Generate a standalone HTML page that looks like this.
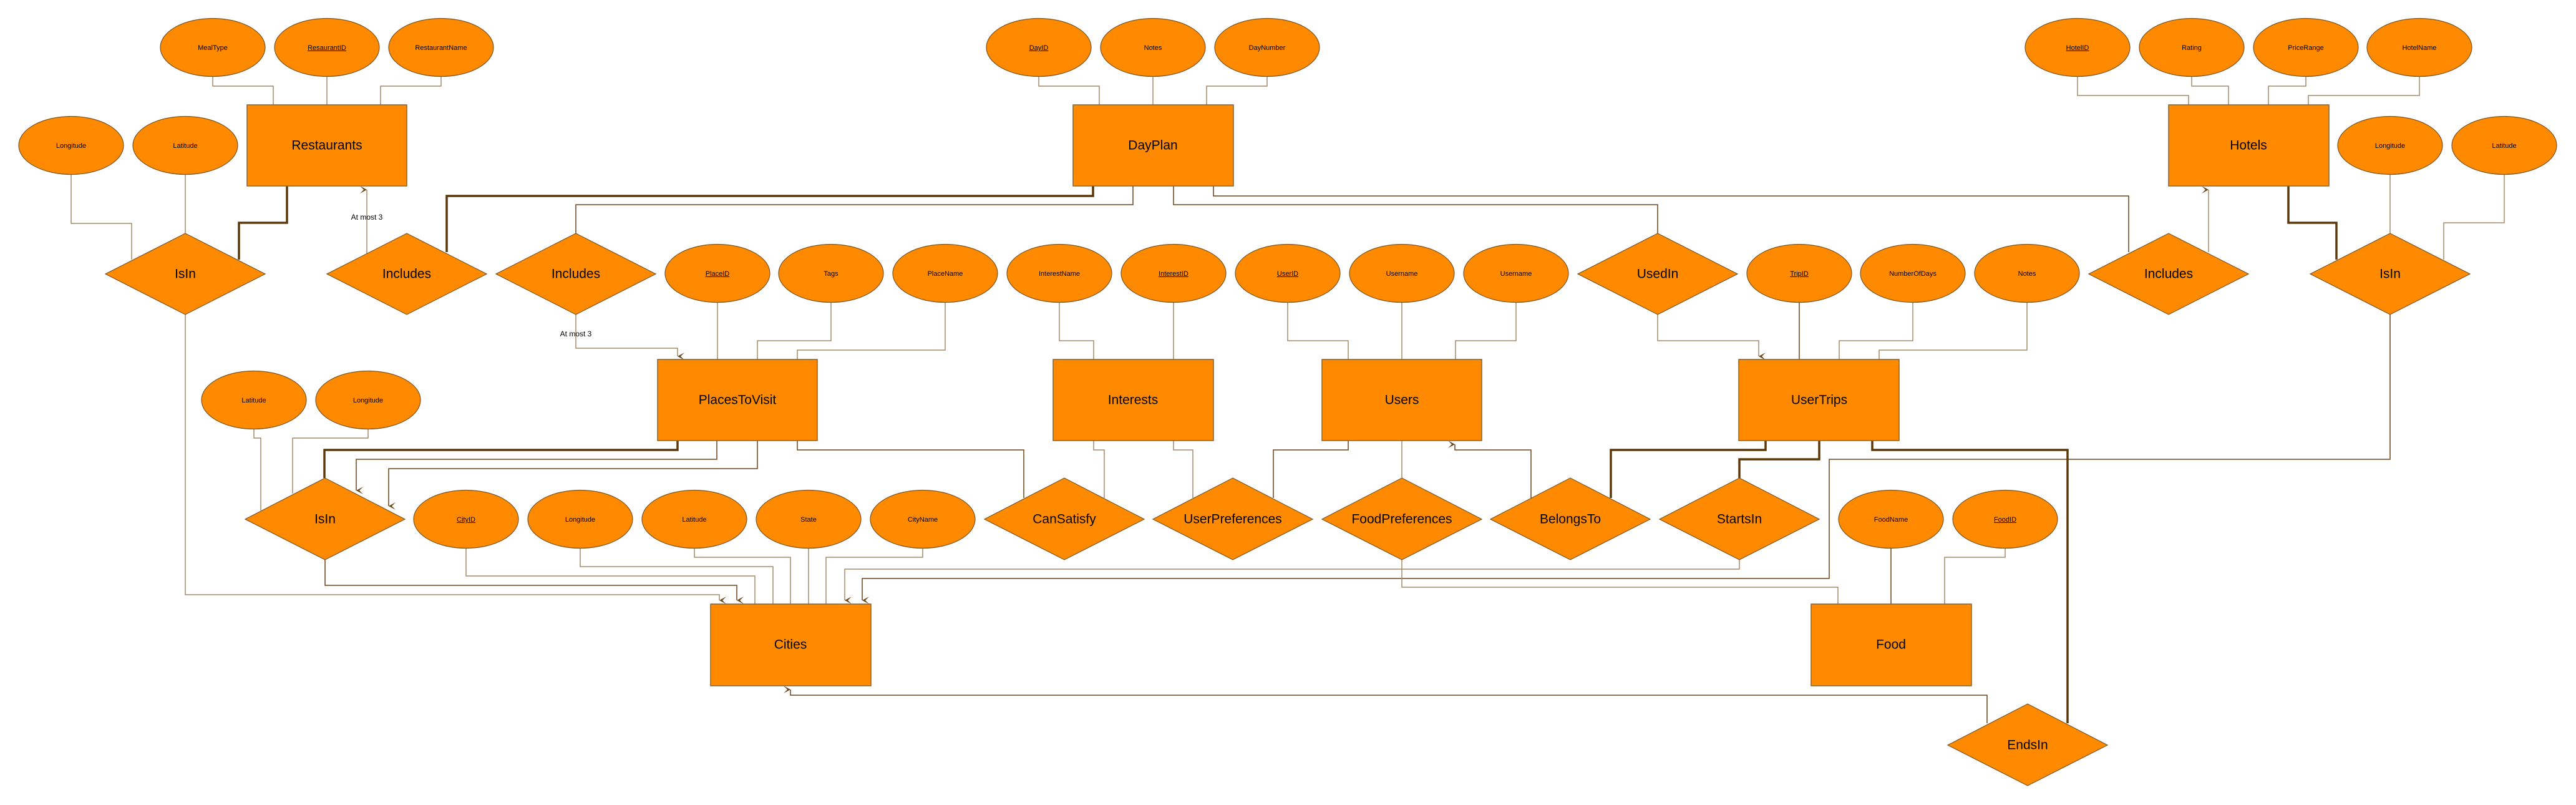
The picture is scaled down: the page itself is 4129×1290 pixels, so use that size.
<!DOCTYPE html>
<html><head><meta charset="utf-8"><style>
html,body{margin:0;padding:0;background:#fff;}
svg{display:block;}
text{font-family:"Liberation Sans",sans-serif;fill:#000;}
.e{fill:#FF8A00;stroke:#7a5520;stroke-width:1.2;}
.b{fill:#FF8A00;stroke:#8a6330;stroke-width:1.5;}
.t{fill:none;stroke:#a48a68;stroke-width:1.5;}
.d{fill:none;stroke:#6b4418;stroke-width:1.5;}
.k{fill:none;stroke:#5c3708;stroke-width:3.5;}
.a{font-size:11px;text-anchor:middle;dominant-baseline:middle;}
.n{font-size:21px;text-anchor:middle;dominant-baseline:middle;}
.l{font-size:12px;text-anchor:middle;dominant-baseline:middle;}
</style></head><body>
<svg width="4129" height="1290" viewBox="0 0 4129 1290" xmlns="http://www.w3.org/2000/svg">
<defs>
<marker id="ar" markerWidth="14" markerHeight="14" refX="7" refY="12" orient="auto-start-reverse" markerUnits="userSpaceOnUse">
<path d="M1,1 L7,12 L13,1 L7,7 Z" fill="#6b4418"/>
</marker>
</defs>

<!-- connectors -->
<g>
<!-- Restaurants attrs -->
<path class="t" d="M341,123 V138 H438 V168"/>
<path class="t" d="M524,123 V168"/>
<path class="t" d="M707,123 V138 H610 V168"/>
<!-- IsIn left -->
<path class="t" d="M114,279 V358 H211 V416"/>
<path class="t" d="M297,279 V374"/>
<path class="k" d="M460,298 V357 H383 V416"/>
<path class="t" d="M297,504 V953 H1153 V962" marker-end="url(#ar)"/>
<!-- Includes1 -->
<path class="t" d="M588,406 V304" marker-end="url(#ar)"/>
<path class="k" d="M716,404 V314 H1752 V298"/>
<!-- Includes2 -->
<path class="d" d="M923,374 V328 H1816 V298"/>
<path class="t" d="M923,504 V558 H1086 V571" marker-end="url(#ar)"/>
<!-- DayPlan attrs -->
<path class="t" d="M1665,123 V138 H1762 V168"/>
<path class="t" d="M1848,123 V168"/>
<path class="t" d="M2031,123 V138 H1934 V168"/>
<!-- DayPlan to UsedIn and Includes3 -->
<path class="d" d="M1881,298 V328 H2657 V374"/>
<path class="d" d="M1945,298 V314 H3412 V404"/>
<!-- PlacesToVisit attrs -->
<path class="t" d="M1150,485 V576"/>
<path class="t" d="M1332,485 V546 H1214 V576"/>
<path class="t" d="M1515,485 V561 H1278 V576"/>
<!-- Interests attrs -->
<path class="t" d="M1698,485 V546 H1753 V576"/>
<path class="t" d="M1881,485 V576"/>
<!-- Users attrs -->
<path class="t" d="M2064,485 V546 H2161 V576"/>
<path class="t" d="M2247,485 V576"/>
<path class="t" d="M2430,485 V546 H2333 V576"/>
<!-- UsedIn to UserTrips -->
<path class="t" d="M2657,504 V546 H2819 V571" marker-end="url(#ar)"/>
<!-- UserTrips attrs -->
<path class="d" d="M2884,485 V576"/>
<path class="t" d="M3066,485 V546 H2948 V576"/>
<path class="t" d="M3249,485 V561 H3012 V576"/>
<!-- Hotels attrs -->
<path class="t" d="M3330,123 V153 H3508 V168"/>
<path class="t" d="M3513,123 V138 H3572 V168"/>
<path class="t" d="M3696,123 V138 H3636 V168"/>
<path class="t" d="M3878,123 V153 H3700 V168"/>
<!-- Includes3 to Hotels -->
<path class="t" d="M3540,404 V304" marker-end="url(#ar)"/>
<!-- Hotels IsIn -->
<path class="k" d="M3668,298 V357 H3745 V416"/>
<path class="t" d="M3831,279 V374"/>
<path class="t" d="M4014,279 V357 H3917 V416"/>
<path class="d" d="M3831,504 V736 H2932 V927 H1382 V962" marker-end="url(#ar)"/>
<!-- PlacesToVisit IsIn (lower) -->
<path class="t" d="M407,687 V702 H418 V818"/>
<path class="t" d="M590,687 V702 H469 V791"/>
<path class="k" d="M1086,706 V721 H520 V766"/>
<path class="d" d="M1149,706 V736 H571 V786" marker-end="url(#ar)"/>
<path class="d" d="M1214,706 V751 H623 V811" marker-end="url(#ar)"/>
<path class="d" d="M1278,706 V721 H1641 V798"/>
<path class="d" d="M521,897 V938 H1181 V962" marker-end="url(#ar)"/>
<!-- Cities attrs -->
<path class="t" d="M747,878 V923 H1210 V968"/>
<path class="t" d="M930,878 V908 H1239 V968"/>
<path class="t" d="M1113,878 V893 H1267 V968"/>
<path class="t" d="M1296,878 V968"/>
<path class="t" d="M1479,878 V893 H1324 V968"/>
<!-- Interests/Users relationships -->
<path class="t" d="M1753,706 V721 H1770 V798"/>
<path class="t" d="M1881,706 V721 H1912 V798"/>
<path class="d" d="M2161,706 V721 H2041 V798"/>
<path class="t" d="M2247,706 V766"/>
<path class="d" d="M2454,798 V721 H2332 V712" marker-end="url(#ar)"/>
<path class="k" d="M2582,798 V721 H2830 V706"/>
<path class="k" d="M2788,766 V736 H2916 V706"/>
<path class="t" d="M2788,897 V912 H1354 V962" marker-end="url(#ar)"/>
<!-- Food -->
<path class="t" d="M2247,897 V941 H2946 V968"/>
<path class="d" d="M3031,878 V968"/>
<path class="t" d="M3214,878 V893 H3117 V968"/>
<!-- EndsIn -->
<path class="k" d="M3001,706 V721 H3314 V1159"/>
<path class="d" d="M3185,1159 V1114 H1267 V1105" marker-end="url(#ar)"/>
</g>

<!-- top attribute ellipses -->
<g>
<ellipse class="e" cx="341" cy="76" rx="84" ry="46.5"/><text class="a" x="341" y="77">MealType</text>
<ellipse class="e" cx="524" cy="76" rx="84" ry="46.5"/><text class="a" x="524" y="77" text-decoration="underline">ResaurantID</text>
<ellipse class="e" cx="707" cy="76" rx="84" ry="46.5"/><text class="a" x="707" y="77">RestaurantName</text>
<ellipse class="e" cx="114" cy="233" rx="84" ry="46.5"/><text class="a" x="114" y="234">Longitude</text>
<ellipse class="e" cx="297" cy="233" rx="84" ry="46.5"/><text class="a" x="297" y="234">Latitude</text>

<ellipse class="e" cx="1665" cy="76" rx="84" ry="46.5"/><text class="a" x="1665" y="77" text-decoration="underline">DayID</text>
<ellipse class="e" cx="1848" cy="76" rx="84" ry="46.5"/><text class="a" x="1848" y="77">Notes</text>
<ellipse class="e" cx="2031" cy="76" rx="84" ry="46.5"/><text class="a" x="2031" y="77">DayNumber</text>

<ellipse class="e" cx="3330" cy="76" rx="84" ry="46.5"/><text class="a" x="3330" y="77" text-decoration="underline">HotelID</text>
<ellipse class="e" cx="3513" cy="76" rx="84" ry="46.5"/><text class="a" x="3513" y="77">Rating</text>
<ellipse class="e" cx="3696" cy="76" rx="84" ry="46.5"/><text class="a" x="3696" y="77">PriceRange</text>
<ellipse class="e" cx="3878" cy="76" rx="84" ry="46.5"/><text class="a" x="3878" y="77">HotelName</text>
<ellipse class="e" cx="3831" cy="233" rx="84" ry="46.5"/><text class="a" x="3831" y="234">Longitude</text>
<ellipse class="e" cx="4014" cy="233" rx="84" ry="46.5"/><text class="a" x="4014" y="234">Latitude</text>

<!-- middle row ellipses -->
<ellipse class="e" cx="1150" cy="438" rx="84" ry="46.5"/><text class="a" x="1150" y="439" text-decoration="underline">PlaceID</text>
<ellipse class="e" cx="1332" cy="438" rx="84" ry="46.5"/><text class="a" x="1332" y="439">Tags</text>
<ellipse class="e" cx="1515" cy="438" rx="84" ry="46.5"/><text class="a" x="1515" y="439">PlaceName</text>
<ellipse class="e" cx="1698" cy="438" rx="84" ry="46.5"/><text class="a" x="1698" y="439">InterestName</text>
<ellipse class="e" cx="1881" cy="438" rx="84" ry="46.5"/><text class="a" x="1881" y="439" text-decoration="underline">InterestID</text>
<ellipse class="e" cx="2064" cy="438" rx="84" ry="46.5"/><text class="a" x="2064" y="439" text-decoration="underline">UserID</text>
<ellipse class="e" cx="2247" cy="438" rx="84" ry="46.5"/><text class="a" x="2247" y="439">Username</text>
<ellipse class="e" cx="2430" cy="438" rx="84" ry="46.5"/><text class="a" x="2430" y="439">Username</text>
<ellipse class="e" cx="2884" cy="438" rx="84" ry="46.5"/><text class="a" x="2884" y="439" text-decoration="underline">TripID</text>
<ellipse class="e" cx="3066" cy="438" rx="84" ry="46.5"/><text class="a" x="3066" y="439">NumberOfDays</text>
<ellipse class="e" cx="3249" cy="438" rx="84" ry="46.5"/><text class="a" x="3249" y="439">Notes</text>

<!-- lower ellipses -->
<ellipse class="e" cx="407" cy="641" rx="84" ry="46.5"/><text class="a" x="407" y="642">Latitude</text>
<ellipse class="e" cx="590" cy="641" rx="84" ry="46.5"/><text class="a" x="590" y="642">Longitude</text>
<ellipse class="e" cx="747" cy="832" rx="84" ry="46.5"/><text class="a" x="747" y="833" text-decoration="underline">CityID</text>
<ellipse class="e" cx="930" cy="832" rx="84" ry="46.5"/><text class="a" x="930" y="833">Longitude</text>
<ellipse class="e" cx="1113" cy="832" rx="84" ry="46.5"/><text class="a" x="1113" y="833">Latitude</text>
<ellipse class="e" cx="1296" cy="832" rx="84" ry="46.5"/><text class="a" x="1296" y="833">State</text>
<ellipse class="e" cx="1479" cy="832" rx="84" ry="46.5"/><text class="a" x="1479" y="833">CityName</text>
<ellipse class="e" cx="3031" cy="832" rx="84" ry="46.5"/><text class="a" x="3031" y="833">FoodName</text>
<ellipse class="e" cx="3214" cy="832" rx="84" ry="46.5"/><text class="a" x="3214" y="833" text-decoration="underline">FoodID</text>
</g>

<!-- entities -->
<g>
<rect class="b" x="396" y="168" width="256" height="130"/><text class="n" x="524" y="234">Restaurants</text>
<rect class="b" x="1720" y="168" width="257" height="130"/><text class="n" x="1848" y="234">DayPlan</text>
<rect class="b" x="3476" y="168" width="257" height="130"/><text class="n" x="3604" y="234">Hotels</text>
<rect class="b" x="1054" y="576" width="256" height="130"/><text class="n" x="1182" y="642">PlacesToVisit</text>
<rect class="b" x="1688" y="576" width="257" height="130"/><text class="n" x="1816" y="642">Interests</text>
<rect class="b" x="2119" y="576" width="256" height="130"/><text class="n" x="2247" y="642">Users</text>
<rect class="b" x="2787" y="576" width="257" height="130"/><text class="n" x="2916" y="642">UserTrips</text>
<rect class="b" x="1139" y="968" width="257" height="131"/><text class="n" x="1267" y="1034">Cities</text>
<rect class="b" x="2903" y="968" width="257" height="131"/><text class="n" x="3031" y="1034">Food</text>
</g>

<!-- relationships -->
<g>
<polygon class="e" points="297,374 425,439 297,504 169,439"/><text class="n" x="297" y="440">IsIn</text>
<polygon class="e" points="652,374 780,439 652,504 524,439"/><text class="n" x="652" y="440">Includes</text>
<polygon class="e" points="923,374 1051,439 923,504 795,439"/><text class="n" x="923" y="440">Includes</text>
<polygon class="e" points="2657,374 2785,439 2657,504 2529,439"/><text class="n" x="2657" y="440">UsedIn</text>
<polygon class="e" points="3476,374 3604,439 3476,504 3348,439"/><text class="n" x="3476" y="440">Includes</text>
<polygon class="e" points="3831,374 3959,439 3831,504 3703,439"/><text class="n" x="3831" y="440">IsIn</text>

<polygon class="e" points="521,766 649,832 521,897 393,832"/><text class="n" x="521" y="833">IsIn</text>
<polygon class="e" points="1706,766 1834,832 1706,897 1578,832"/><text class="n" x="1706" y="833">CanSatisfy</text>
<polygon class="e" points="1976,766 2104,832 1976,897 1848,832"/><text class="n" x="1976" y="833">UserPreferences</text>
<polygon class="e" points="2247,766 2375,832 2247,897 2119,832"/><text class="n" x="2247" y="833">FoodPreferences</text>
<polygon class="e" points="2517,766 2645,832 2517,897 2389,832"/><text class="n" x="2517" y="833">BelongsTo</text>
<polygon class="e" points="2788,766 2916,832 2788,897 2660,832"/><text class="n" x="2788" y="833">StartsIn</text>
<polygon class="e" points="3250,1128 3378,1194 3250,1259 3122,1194"/><text class="n" x="3250" y="1195">EndsIn</text>
</g>

<text class="l" x="588" y="349">At most 3</text>
<text class="l" x="923" y="536">At most 3</text>
</svg>
</body></html>
